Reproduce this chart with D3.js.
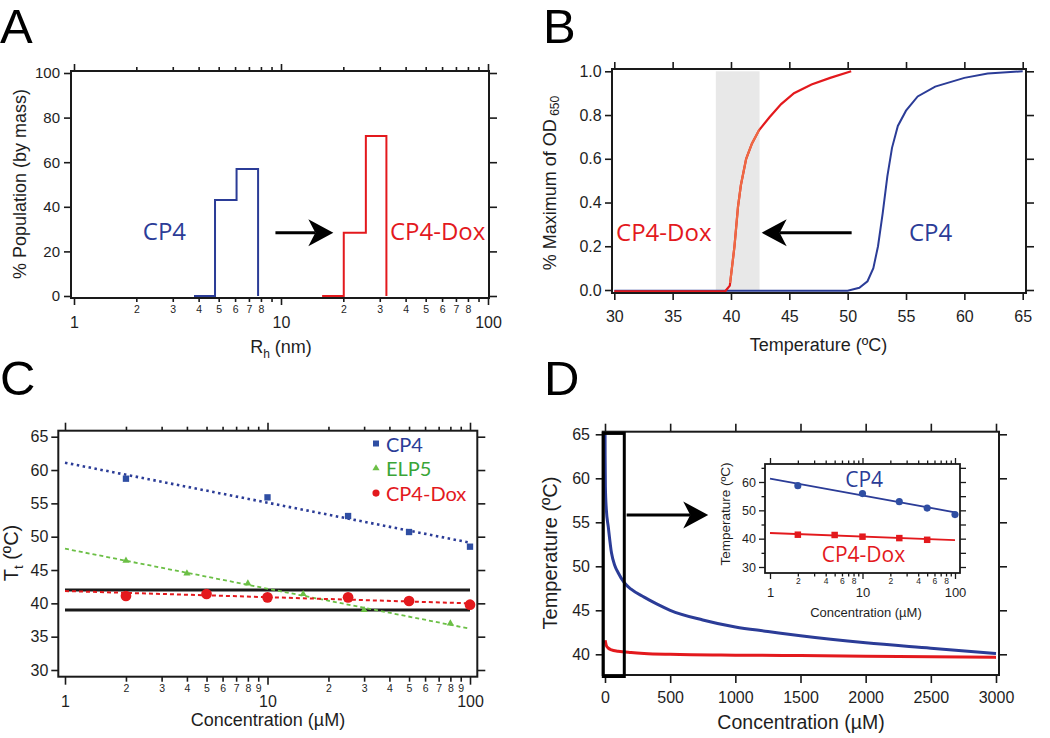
<!DOCTYPE html>
<html><head><meta charset="utf-8">
<script src="https://cdn.jsdelivr.net/npm/d3@7"></script>
<style>
body{margin:0;background:#fff}
svg{display:block;background:#fff}
</style></head><body>
<svg id="c" width="1050" height="738"></svg>
<script>
// ---------- Panel A data ----------
const aCP4Edges = [3.8, 4.8, 6.1, 7.75];
const aCP4Pop   = [0, 43, 57, 0];
const aDoxEdges = [15.8, 20.1, 25.7, 32.3];
const aDoxPop   = [0, 28.4, 71.8, 0];
const aYTicks = [0, 20, 40, 60, 80, 100];
const aMinorLabels = [2, 3, 4, 5, 6, 7, 8];
// ---------- Panel B data ----------
const bBand = [38.7, 42.45];
const bCP4Temp = [30, 50, 51, 51.7, 52.2, 52.6, 53.0, 53.4, 53.8, 54.3, 55.0, 56.0, 57.5, 60.0, 62.0, 65.0];
const bCP4OD   = [-0.003, -0.003, 0.01, 0.04, 0.1, 0.2, 0.35, 0.52, 0.65, 0.75, 0.82, 0.885, 0.93, 0.97, 0.99, 1.0];
const bDoxTemp = [30, 39.5, 39.9, 40.3, 40.6, 40.85, 41.3, 41.8, 42.4, 43.3, 44.3, 45.4, 46.9, 48.5, 50.3];
const bDoxOD   = [-0.006, -0.006, 0.02, 0.2, 0.38, 0.48, 0.6, 0.67, 0.73, 0.79, 0.85, 0.9, 0.94, 0.97, 1.0];
const bXTicks = [30, 35, 40, 45, 50, 55, 60, 65];
const bYTicks = [0, 0.2, 0.4, 0.6, 0.8, 1.0];
// ---------- Panel C data ----------
const cCP4Conc = [2, 10, 25, 50, 100];
const cCP4Tt   = [58.7, 55.9, 53.1, 50.7, 48.5];
const cELPConc = [2, 4, 8, 15, 30, 80];
const cELPTt   = [46.4, 44.5, 43.0, 41.4, 39.0, 37.0];
const cDoxConc = [2, 5, 10, 25, 50, 100];
const cDoxTt   = [41.1, 41.4, 40.9, 40.9, 40.35, 39.8];
const cFitConc = [1, 100];
const cCP4Fit  = [61.1, 49.1];
const cELPFit  = [48.2, 36.2];
const cDoxFit  = [41.85, 40.0];
const cRefLines = [42, 39];
const cYTicks = [30, 35, 40, 45, 50, 55, 60, 65];
const cMinorLabels = [2, 3, 4, 5, 6, 7, 8, 9];
const cLegend = ["CP4", "ELP5", "CP4-Dox"];
// ---------- Panel D data ----------
const dCP4Conc = [0.3, 1, 3, 10, 25, 50, 75, 100, 150, 200, 300, 400, 500, 750, 1000, 1250, 1500, 2000, 2500, 3000];
const dCP4Temp = [66, 62.5, 59, 56.5, 54.5, 51.5, 50.1, 49.3, 48.1, 47.4, 46.5, 45.7, 45.0, 43.9, 43.1, 42.6, 42.1, 41.3, 40.7, 40.1];
const dDoxConc = [1, 5, 10, 25, 50, 100, 200, 300, 500, 1000, 1500, 2000, 2500, 3000];
const dDoxTemp = [41.6, 41.3, 41.0, 40.7, 40.5, 40.35, 40.2, 40.1, 40.0, 39.9, 39.85, 39.78, 39.72, 39.65];
const dXTicks = [0, 500, 1000, 1500, 2000, 2500, 3000];
const dYTicks = [40, 45, 50, 55, 60, 65];
// ---------- Inset data ----------
const iCP4Conc = [2, 10, 25, 50, 100];
const iCP4Temp = [58.7, 55.9, 53.05, 50.8, 48.5];
const iDoxConc = [2, 5, 10, 25, 50];
const iDoxTemp = [41.4, 41.3, 40.7, 40.2, 39.6];
const iFitConc = [1, 100];
const iCP4Fit  = [61.2, 49.3];
const iDoxFit  = [42.0, 39.5];
const iYTicks = [30, 35, 40, 45, 50, 55, 60, 65];
const iMinorLabels = [2, 4, 6, 8];

// ---------- styles ----------
const FONT = '"Liberation Sans", Arial, Helvetica, sans-serif';
const LFONT = '"Open Sans", "Liberation Sans", sans-serif';
const GFONT = 'Lato, "Open Sans", sans-serif';
const BLUE = '#2b3c97', RED = '#e3191d', GREEN = '#3aa537', GREENM = '#6bbf45', ORANGE = '#ee6a43', INK = '#1a1a1a';
const svg = d3.select('#c');

const zip = (a, b) => a.map((v, i) => [v, b[i]]);
const isMinorLog = d => Math.abs(Math.log10(d) - Math.round(Math.log10(d))) > 1e-9;
const lead = d => Math.round(d / Math.pow(10, Math.floor(Math.log10(d) + 1e-9)));
const logFmt = labels => d => isMinorLog(d) ? (labels.includes(lead(d)) ? String(lead(d)) : '') : String(d);

function frame(g, f, sw = 2) {
  g.append('rect').attr('x', f.l).attr('y', f.t).attr('width', f.r - f.l).attr('height', f.b - f.t)
    .attr('fill', 'none').attr('stroke', INK).attr('stroke-width', sw);
}
function axis(g, scale, side, pos, vals, o = {}) {
  const gen = {bottom: d3.axisBottom, top: d3.axisTop, left: d3.axisLeft, right: d3.axisRight}[side](scale);
  const len = o.len ?? 7;
  gen.tickValues(vals).tickSizeOuter(0).tickSizeInner(len).tickPadding(o.pad ?? 3).tickFormat(o.fmt || (() => ''));
  const horiz = side === 'bottom' || side === 'top';
  const a = g.append('g').attr('transform', horiz ? `translate(0,${pos})` : `translate(${pos},0)`).call(gen);
  a.select('.domain').remove();
  a.selectAll('.tick line').attr('stroke', INK).attr('stroke-width', o.sw ?? 1.6);
  a.selectAll('.tick text').attr('fill', '#1e1e1e').style('font-family', FONT).style('font-size', (o.fs ?? 15) + 'px');
  const sign = (side === 'bottom' || side === 'right') ? 1 : -1;
  a.selectAll('.tick').each(function (d) {
    const s = d3.select(this);
    const mn = o.minor ? o.minor(d) : false;
    const L = mn ? (o.minorLen ?? 4) : len;
    if (horiz) s.select('line').attr('y2', sign * L); else s.select('line').attr('x2', sign * L);
    if (side === 'bottom' && o.baseline !== undefined) {
      s.select('text').attr('dy', null).attr('y', mn ? o.minorBaseline : o.baseline)
        .style('font-size', (mn ? o.minorFs : o.fs) + 'px');
    }
  });
  return a;
}
function title(g, x, y, rot, fs, parts, color = '#1e1e1e', family = FONT, anchor = 'middle') {
  const t = g.append('text').attr('transform', `translate(${x},${y}) rotate(${rot})`)
    .attr('text-anchor', anchor).style('font-family', family).style('font-size', fs + 'px').attr('fill', color);
  let shift = 0;
  parts.forEach(p => {
    const ts = t.append('tspan').text(p.t);
    if (p.fs) ts.style('font-size', p.fs + 'px');
    const s = p.sub || 0;
    if (s - shift !== 0) ts.attr('dy', s - shift);
    shift = s;
  });
  return t;
}
function label(g, x, y, txt, color, fs, family = LFONT) {
  g.append('text').attr('x', x).attr('y', y)
    .style('font-family', family).style('font-size', fs + 'px').attr('fill', color).text(txt);
}
function arrow(g, x1, x2, y, hl = 25, hw = 13.5, notch = 7) {
  const dir = Math.sign(x2 - x1);
  const bx = x2 - dir * hl;
  g.append('line').attr('x1', x1).attr('x2', bx + dir * notch).attr('y1', y).attr('y2', y)
    .attr('stroke', '#000').attr('stroke-width', 3);
  g.append('path').attr('d', `M${x2},${y} L${bx},${y - hw} L${bx + dir * notch},${y} L${bx},${y + hw} Z`).attr('fill', '#000');
}
function panelLetter(x, y, t) {
  svg.append('text').attr('x', x).attr('y', y).style('font-family', FONT).style('font-size', '49px').attr('fill', '#000').text(t);
}

// ================= Panel A =================
{
  const g = svg.append('g');
  const x = d3.scaleLog().domain([1, 100]).range([74, 488]);
  const y = d3.scaleLinear().domain([0, 100]).range([296, 73]);
  const f = {l: 71, r: 489, t: 71, b: 298};
  const lt = x.ticks();
  axis(g, x, 'bottom', f.b, lt, {len: 7, minorLen: 4, minor: isMinorLog, fmt: logFmt(aMinorLabels), fs: 16, minorFs: 10.5, baseline: 30, minorBaseline: 15});
  axis(g, x, 'top', f.t, lt, {len: 7, minorLen: 4, minor: isMinorLog});
  axis(g, y, 'left', f.l, aYTicks, {len: 7, pad: 4, fmt: d3.format('d'), fs: 15});
  axis(g, y, 'right', f.r, aYTicks, {len: 8});
  const step = d3.line().x(d => x(d[0])).y(d => y(d[1])).curve(d3.curveStepAfter);
  g.append('path').attr('d', step(zip(aCP4Edges, aCP4Pop))).attr('fill', 'none').attr('stroke', BLUE).attr('stroke-width', 2);
  g.append('path').attr('d', step(zip(aDoxEdges, aDoxPop))).attr('fill', 'none').attr('stroke', RED).attr('stroke-width', 2);
  frame(g, f);
  label(g, x(2.15), y(25.1), 'CP4', BLUE, 24);
  label(g, x(33.6), y(25.1), 'CP4-Dox', RED, 24);
  arrow(g, x(9.4), x(17.9), y(28.4));
  title(g, 26, 184, -90, 18, [{t: '% Population (by mass)'}]);
  title(g, 281, 353, 0, 18, [{t: 'R'}, {t: 'h', fs: 12, sub: 5}, {t: ' (nm)', sub: 0}]);
}
// ================= Panel B =================
{
  const g = svg.append('g');
  const x = d3.scaleLinear().domain([30, 65]).range([614.3, 1022.7]);
  const y = d3.scaleLinear().domain([0, 1]).range([290, 71.3]);
  const f = {l: 612, r: 1026, t: 69, b: 293};
  g.append('rect').attr('x', x(bBand[0])).attr('width', x(bBand[1]) - x(bBand[0]))
    .attr('y', y(1)).attr('height', y(0) - y(1)).attr('fill', '#e8e8e8');
  axis(g, x, 'bottom', f.b, bXTicks, {len: 7, fmt: d3.format('d'), fs: 16, baseline: 29});
  axis(g, x, 'top', f.t, bXTicks, {len: 7});
  axis(g, y, 'left', f.l, bYTicks, {len: 7, pad: 3.3, fmt: d3.format('.1f'), fs: 16});
  axis(g, y, 'right', f.r, bYTicks, {len: 8});
  const ln = d3.line().x(d => x(d[0])).y(d => y(d[1]));
  g.append('path').attr('d', ln(zip(bCP4Temp, bCP4OD))).attr('fill', 'none').attr('stroke', BLUE).attr('stroke-width', 2);
  g.append('path').attr('d', ln(zip(bDoxTemp, bDoxOD))).attr('fill', 'none').attr('stroke', RED).attr('stroke-width', 2.2);
  g.append('clipPath').attr('id', 'bandclip').append('rect').attr('x', x(bBand[0])).attr('width', x(bBand[1]) - x(bBand[0]))
    .attr('y', y(1) - 5).attr('height', y(0) - y(1) - 2);
  g.append('path').attr('d', ln(zip(bDoxTemp, bDoxOD))).attr('fill', 'none').attr('stroke', ORANGE).attr('stroke-width', 2.2).attr('clip-path', 'url(#bandclip)');
  frame(g, f);
  label(g, x(30.15), y(0.225), 'CP4-Dox', RED, 24);
  label(g, x(55.25), y(0.225), 'CP4', BLUE, 24);
  arrow(g, x(50.34), x(42.63), y(0.262));
  title(g, 556, 183, -90, 18, [{t: '% Maximum of OD'}, {t: ' 650', fs: 12, sub: 3}]);
  title(g, 818.5, 351, 0, 18, [{t: 'Temperature (ºC)'}]);
}
// ================= Panel C =================
{
  const g = svg.append('g');
  const x = d3.scaleLog().domain([1, 100]).range([65, 470]);
  const y = d3.scaleLinear().domain([30, 65]).range([670, 436.7]);
  const f = {l: 58.3, r: 477.3, t: 430.7, b: 676.7};
  const lt = x.ticks();
  axis(g, x, 'bottom', f.b, lt, {len: 8, minorLen: 5, minor: isMinorLog, fmt: logFmt(cMinorLabels), fs: 16, minorFs: 10.5, baseline: 30, minorBaseline: 15});
  axis(g, x, 'top', f.t, lt, {len: 8, minorLen: 4, minor: isMinorLog});
  axis(g, y, 'left', f.l, cYTicks, {len: 7, pad: 3, fmt: d3.format('d'), fs: 16});
  axis(g, y, 'right', f.r, cYTicks, {len: 8});
  const ln = d3.line().x(d => x(d[0])).y(d => y(d[1]));
  cRefLines.forEach(v => g.append('path').attr('d', ln([[cFitConc[0], v], [cFitConc[1], v]])).attr('stroke', INK).attr('stroke-width', 3));
  g.append('path').attr('d', ln(zip(cFitConc, cELPFit))).attr('fill', 'none').attr('stroke', GREENM).attr('stroke-width', 1.8).attr('stroke-dasharray', '4,3');
  g.append('path').attr('d', ln(zip(cFitConc, cDoxFit))).attr('fill', 'none').attr('stroke', RED).attr('stroke-width', 2).attr('stroke-dasharray', '4,3');
  g.append('path').attr('d', ln(zip(cFitConc, cCP4Fit))).attr('fill', 'none').attr('stroke', BLUE).attr('stroke-width', 2.6).attr('stroke-dasharray', '2.5,3.5');
  const sym = (type, size) => d3.symbol().type(type).size(size)();
  g.selectAll('.sq').data(zip(cCP4Conc, cCP4Tt)).join('path').attr('transform', d => `translate(${x(d[0])},${y(d[1])})`).attr('d', sym(d3.symbolSquare, 40)).attr('fill', '#2f4ea3');
  g.selectAll('.tr').data(zip(cELPConc, cELPTt)).join('path').attr('transform', d => `translate(${x(d[0])},${y(d[1])})`).attr('d', sym(d3.symbolTriangle, 22)).attr('fill', GREENM);
  g.selectAll('.ci').data(zip(cDoxConc, cDoxTt)).join('path').attr('transform', d => `translate(${x(d[0])},${y(d[1])})`).attr('d', sym(d3.symbolCircle, 90)).attr('fill', RED);
  frame(g, f);
  // legend
  const lg = [[d3.symbolSquare, 36, '#2f4ea3', BLUE], [d3.symbolTriangle, 22, GREENM, GREEN], [d3.symbolCircle, 40, RED, RED]];
  cLegend.forEach((t, i) => {
    g.append('path').attr('transform', `translate(376,${443.5 + i * 24.8})`).attr('d', sym(lg[i][0], lg[i][1])).attr('fill', lg[i][2]);
    label(g, 386, 451.7 + i * 24.5, t, lg[i][3], 20, GFONT);
  });
  title(g, 18, 553, -90, 20, [{t: 'T'}, {t: 't', fs: 13, sub: 5}, {t: ' (ºC)', sub: 0}]);
  title(g, 268, 725.5, 0, 18, [{t: 'Concentration (µM)'}]);
}
// ================= Panel D =================
{
  const g = svg.append('g');
  const x = d3.scaleLinear().domain([0, 3000]).range([605, 996]);
  const y = d3.scaleLinear().domain([40, 65]).range([654.3, 434.3]);
  const f = {l: 602.7, r: 999, t: 431.7, b: 675};
  axis(g, x, 'bottom', f.b, dXTicks, {len: 8, fmt: d3.format('d'), fs: 16, baseline: 28});
  axis(g, x, 'top', f.t, dXTicks, {len: 8});
  axis(g, y, 'left', f.l, dYTicks, {len: 7, pad: 5.7, fmt: d3.format('d'), fs: 16});
  axis(g, y, 'right', f.r, dYTicks, {len: 8});
  g.append('clipPath').attr('id', 'dclip').append('rect').attr('x', f.l).attr('y', f.t).attr('width', f.r - f.l).attr('height', f.b - f.t);
  const ln = d3.line().x(d => x(d[0])).y(d => y(d[1])).curve(d3.curveMonotoneX);
  g.append('path').attr('d', ln(zip(dCP4Conc, dCP4Temp))).attr('fill', 'none').attr('stroke', BLUE).attr('stroke-width', 3).attr('clip-path', 'url(#dclip)');
  g.append('path').attr('d', ln(zip(dDoxConc, dDoxTemp))).attr('fill', 'none').attr('stroke', RED).attr('stroke-width', 3).attr('clip-path', 'url(#dclip)');
  frame(g, f);
  // zoom box
  g.append('rect').attr('x', x(-13)).attr('y', y(65.1)).attr('width', x(148) - x(-13)).attr('height', f.b + 1.5 - y(65.1))
    .attr('fill', 'none').attr('stroke', '#000').attr('stroke-width', 3);
  arrow(g, x(166), x(792), y(55.83));
  title(g, 557, 553, -90, 20, [{t: 'Temperature (ºC)'}]);
  title(g, 801, 729, 0, 19.5, [{t: 'Concentration (µM)'}]);

  // ----- inset -----
  const xi = d3.scaleLog().domain([1, 100]).range([770, 955]);
  const yi = d3.scaleLinear().domain([30, 60]).range([567, 482]);
  const fi = {l: 765, r: 960, t: 464, b: 573};
  g.append('rect').attr('x', fi.l).attr('y', fi.t).attr('width', fi.r - fi.l).attr('height', fi.b - fi.t).attr('fill', '#fff');
  const lt = xi.ticks();
  const isMinorY = d => d % 10 !== 0;
  axis(g, xi, 'bottom', fi.b, lt, {len: 6, minorLen: 3.5, minor: isMinorLog, fmt: logFmt(iMinorLabels), fs: 13, minorFs: 8.5, baseline: 23.7, minorBaseline: 11.3, sw: 1.3});
  axis(g, xi, 'top', fi.t, lt, {len: 6, minorLen: 3.5, minor: isMinorLog, sw: 1.3});
  axis(g, yi, 'left', fi.l, iYTicks, {len: 6, minorLen: 3.5, minor: isMinorY, pad: 3, fmt: d => d % 10 === 0 ? String(d) : '', fs: 12.5, sw: 1.3});
  axis(g, yi, 'right', fi.r, iYTicks, {len: 6, sw: 1.3});
  const li = d3.line().x(d => xi(d[0])).y(d => yi(d[1]));
  g.append('path').attr('d', li(zip(iFitConc, iCP4Fit))).attr('fill', 'none').attr('stroke', BLUE).attr('stroke-width', 1.8);
  g.append('path').attr('d', li(zip(iFitConc, iDoxFit))).attr('fill', 'none').attr('stroke', RED).attr('stroke-width', 1.8);
  const sym = (type, size) => d3.symbol().type(type).size(size)();
  g.selectAll('.ic').data(zip(iCP4Conc, iCP4Temp)).join('path').attr('transform', d => `translate(${xi(d[0])},${yi(d[1])})`).attr('d', sym(d3.symbolCircle, 40)).attr('fill', '#2f4ea3');
  g.selectAll('.is').data(zip(iDoxConc, iDoxTemp)).join('path').attr('transform', d => `translate(${xi(d[0])},${yi(d[1])})`).attr('d', sym(d3.symbolSquare, 42)).attr('fill', RED);
  frame(g, fi, 1.8);
  label(g, xi(6.5), yi(58.1), 'CP4', BLUE, 21);
  label(g, xi(3.62), yi(31.7), 'CP4-Dox', RED, 21);
  title(g, 729.5, 514, -90, 13.5, [{t: 'Temperature (ºC)'}]);
  title(g, 866, 617, 0, 13, [{t: 'Concentration (µM)'}]);
}
panelLetter(0, 43, 'A');
panelLetter(543, 43, 'B');
panelLetter(0, 395, 'C');
panelLetter(544, 395, 'D');
</script>
</body></html>
